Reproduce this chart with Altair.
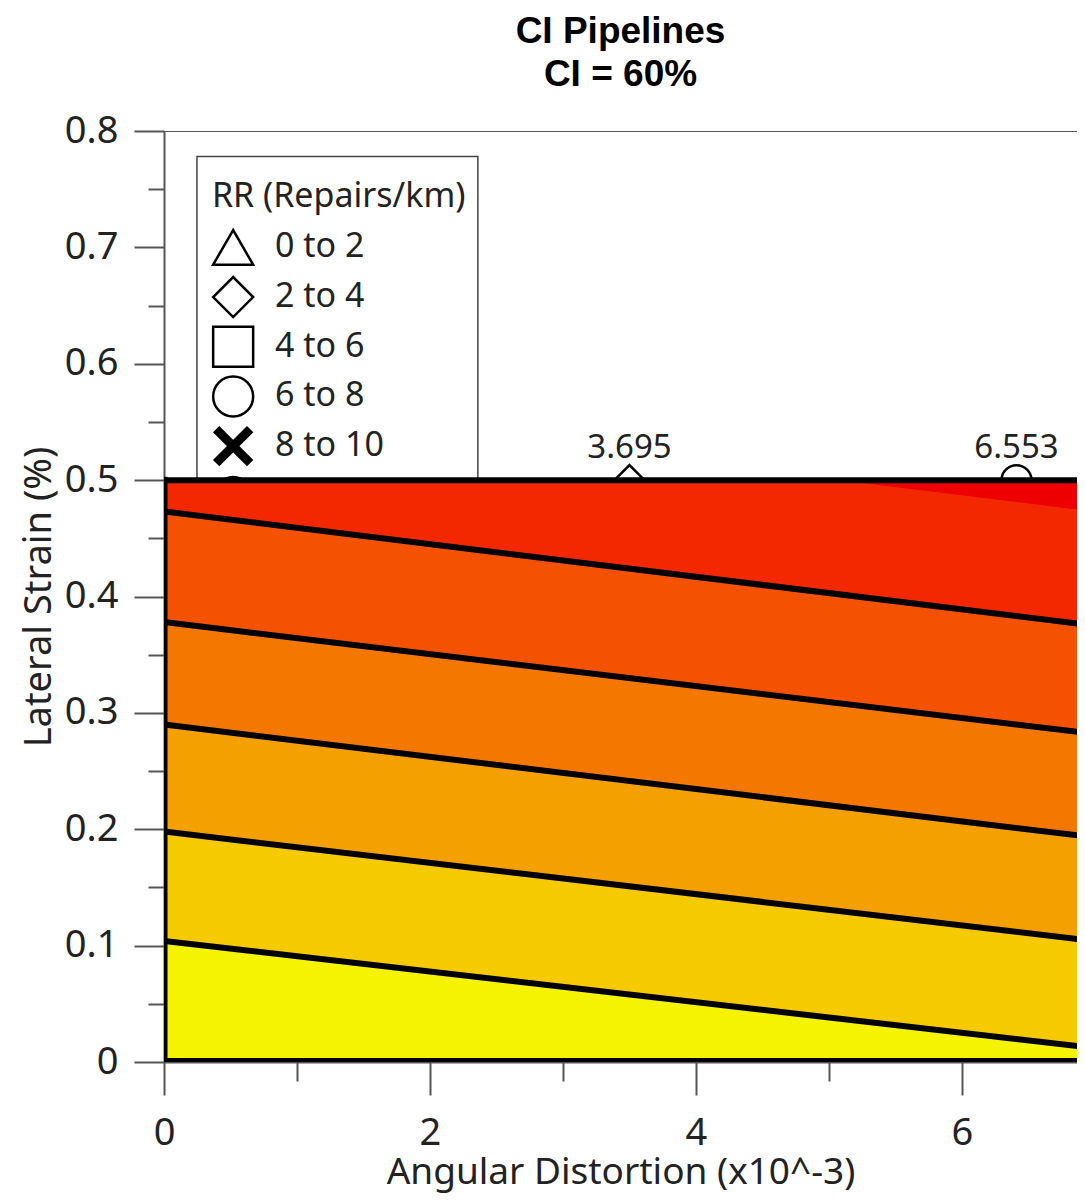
import altair as alt
import pandas as pd

# ---------------- text ----------------
TITLE = ["CI Pipelines", "CI = 60%"]
X_TITLE = "Angular Distortion (x10^-3)"
Y_TITLE = "Lateral Strain (%)"

# ---------------- data ----------------
# contour boundaries read at the left (x=0) and right (x=6.92) edges
edge_x = [0.0, 6.92]
contour_left = [0.104, 0.198, 0.290, 0.378, 0.473]
contour_right = [0.013, 0.105, 0.194, 0.283, 0.376]
# highest (unlined) boundary, enters the shown range near x=5.08
top_boundary_x = [5.08, 6.92]
top_boundary_y = [0.5, 0.474]
y_floor = 0.0
y_ceiling = 0.5
band_colors = ["#f5f300", "#f5ca00", "#f4a000", "#f47800", "#f45200", "#f42800"]
top_band_color = "#ee0000"

# data points (RR values)
pt_x = [3.5, 6.41]
pt_y = [0.5, 0.5]
pt_label = ["3.695", "6.553"]
pt_shape = ["diamond", "circle"]

# legend
legend_title = "RR (Repairs/km)"
legend_labels = ["0 to 2", "2 to 4", "4 to 6", "6 to 8", "8 to 10", "10 to 12"]
X_PATH = "M-0.85,-0.85L0.85,0.85M0.85,-0.85L-0.85,0.85"
legend_shapes = ["triangle-up", "diamond", "square", "circle", "cross-x", "filled-circle"]

y_major = [0, 0.1, 0.2, 0.3, 0.4, 0.5, 0.6, 0.7, 0.8]
y_minor = [0.05, 0.15, 0.25, 0.35, 0.45, 0.55, 0.65, 0.75]
x_major = [0, 2, 4, 6]
x_minor = [1, 3, 5]

X_MAX = 6.865

# ---------------- scales / axes ----------------
xs = alt.Scale(domain=[0, X_MAX], nice=False, zero=False)
ys = alt.Scale(domain=[0, 0.8], nice=False, zero=False)

AX = dict(tickColor="#555", tickWidth=2, domainColor="#555", domainWidth=2, grid=False,
          labelFont="Noto Sans", labelColor="#222", labelFontSize=38,
          titleFont="Noto Sans", titleColor="#222", titleFontWeight="normal",
          labelFlush=False, labelOverlap=False)

major_y = alt.Axis(values=y_major, format=".1~f", tickSize=30, labelPadding=16,
                   title=Y_TITLE, titlePadding=6, titleFontSize=38, orient="left", **AX)
minor_y = alt.Axis(values=y_minor, tickSize=16, labels=False, domain=False, title=None,
                   orient="left", tickColor="#555", tickWidth=2, grid=False)
major_x = alt.Axis(values=x_major, format="d", tickSize=33, labelPadding=19,
                   title=X_TITLE, titlePadding=2, titleFontSize=37, orient="bottom", **AX)
minor_x = alt.Axis(values=x_minor, tickSize=19, labels=False, domain=False, title=None,
                   orient="bottom", tickColor="#555", tickWidth=2, grid=False)


def X(f, axis=None):
    return alt.X(f, type="quantitative", scale=xs, axis=axis)


def Y(f, axis=None):
    return alt.Y(f, type="quantitative", scale=ys, axis=axis, stack=None)


# ---------------- tables ----------------
bl = [y_floor] + contour_left + [y_ceiling]
br = [y_floor] + contour_right + [y_ceiling]
band_rows = []
for i in range(len(band_colors)):
    band_rows.append(dict(band=i, x=edge_x[0], lo=bl[i], hi=bl[i + 1]))
    band_rows.append(dict(band=i, x=edge_x[1], lo=br[i], hi=br[i + 1]))
bands_df = pd.DataFrame(band_rows)

top_df = pd.DataFrame(dict(x=top_boundary_x, lo=top_boundary_y, hi=[y_ceiling] * 2))

line_rows = []
for j in range(len(contour_left)):
    line_rows.append(dict(line=j, x=edge_x[0], y=contour_left[j]))
    line_rows.append(dict(line=j, x=edge_x[1], y=contour_right[j]))
lines_df = pd.DataFrame(line_rows)

frame_df = pd.DataFrame(dict(
    x=[0, 0, 0], x2=[0, edge_x[1], edge_x[1]],
    y=[y_floor, y_floor, y_ceiling], y2=[y_ceiling, y_floor, y_ceiling],
    w=[7, 8, 6]))

border_df = pd.DataFrame(dict(x=[0], x2=[edge_x[1]], y=[0.8], y2=[0.8]))

pts_df = pd.DataFrame(dict(x=pt_x, y=pt_y, label=pt_label, shape=pt_shape))

# legend layout (in data units)
leg_sym_x, leg_text_x, leg_title_x = 0.52, 0.835, 0.36
leg_top_y, leg_step = 0.700, 0.0427
leg_rows = pd.DataFrame(dict(
    label=legend_labels, kind=legend_shapes,
    y=[leg_top_y - k * leg_step for k in range(len(legend_labels))],
    sx=[leg_sym_x] * len(legend_labels), tx=[leg_text_x] * len(legend_labels)))
leg_box = pd.DataFrame(dict(x=[0.248], x2=[2.36], y=[0.45], y2=[0.778]))
leg_head = pd.DataFrame(dict(x=[leg_title_x], y=[0.743], t=[legend_title]))

minor_df = pd.DataFrame(dict(mx=[0.0], my=[0.0]))

# ---------------- layers ----------------
border = alt.Chart(border_df).mark_rule(color="#555", strokeWidth=2, clip=True).encode(
    x=X("x"), x2="x2", y=Y("y"), y2="y2")

minor_axes = alt.Chart(minor_df).mark_point(opacity=0).encode(
    x=X("mx", minor_x), y=Y("my", minor_y))

box = alt.Chart(leg_box).mark_rect(fill="white", stroke="#444", strokeWidth=1.5).encode(
    x=X("x"), x2="x2", y=Y("y"), y2="y2")

open_kinds = ["triangle-up", "diamond", "square", "circle"]
leg_open = alt.Chart(leg_rows).transform_filter(
    alt.FieldOneOfPredicate(field="kind", oneOf=open_kinds)
).mark_point(filled=False, color="black", strokeWidth=2.5, size=1600, opacity=1).encode(
    x=X("sx"), y=Y("y"), shape=alt.Shape("kind:N", scale=None))

leg_x = alt.Chart(leg_rows).transform_filter(alt.datum.kind == "cross-x").mark_point(
    filled=False, color="black", strokeWidth=9, size=1600, shape=X_PATH, opacity=1).encode(
    x=X("sx"), y=Y("y"))

leg_fill = alt.Chart(leg_rows).transform_filter(alt.datum.kind == "filled-circle").mark_point(
    filled=True, color="black", size=1600, shape="circle", opacity=1).encode(
    x=X("sx"), y=Y("y"))

leg_text = alt.Chart(leg_rows).mark_text(
    align="left", baseline="middle", font="Noto Sans", fontSize=34, color="#222").encode(
    x=X("tx"), y=Y("y"), text="label:N")

leg_title_l = alt.Chart(leg_head).mark_text(
    align="left", baseline="middle", font="Noto Sans", fontSize=34, color="#222").encode(
    x=X("x"), y=Y("y"), text="t:N")

pts = alt.Chart(pts_df).mark_point(filled=False, color="black", strokeWidth=2.5, size=900,
                                   opacity=1).encode(
    x=X("x"), y=Y("y"), shape=alt.Shape("shape:N", scale=None))

pt_text = alt.Chart(pts_df).mark_text(
    align="center", baseline="alphabetic", dy=-22, font="Noto Sans", fontSize=33,
    color="#222").encode(x=X("x"), y=Y("y"), text="label:N")

bands = alt.Chart(bands_df).mark_area(clip=True, opacity=1).encode(
    x=X("x", major_x), y=Y("lo", major_y), y2="hi",
    color=alt.Color("band:N", scale=alt.Scale(domain=list(range(len(band_colors))),
                                              range=band_colors), legend=None))

top_band = alt.Chart(top_df).mark_area(clip=True, color=top_band_color, opacity=1).encode(
    x=X("x"), y=Y("lo"), y2="hi")

lines = alt.Chart(lines_df).mark_line(clip=True, color="black", strokeWidth=6).encode(
    x=X("x"), y=Y("y"), detail="line:N")

frame = alt.Chart(frame_df).mark_rule(clip=True, color="black", strokeCap="square").encode(
    x=X("x"), x2="x2", y=Y("y"), y2="y2",
    strokeWidth=alt.StrokeWidth("w:Q", scale=None))

chart = alt.layer(
    border, minor_axes, box, leg_open, leg_x, leg_fill, leg_text, leg_title_l,
    pts, pt_text, bands, top_band, lines, frame
).resolve_axis(x="independent", y="independent").properties(
    width=913, height=931,
    padding={"left": 156, "top": 123, "right": 0, "bottom": 133},
    autosize=alt.AutoSizeParams(type="none"),
    background="white",
    title=alt.TitleParams(TITLE, font="Liberation Sans", fontSize=37, fontWeight="bold",
                          color="black", anchor="middle", frame="group", lineHeight=43,
                          offset=18),
).configure_view(stroke=None)

chart.save("out.html", embed_options={"renderer": "svg", "actions": False})
